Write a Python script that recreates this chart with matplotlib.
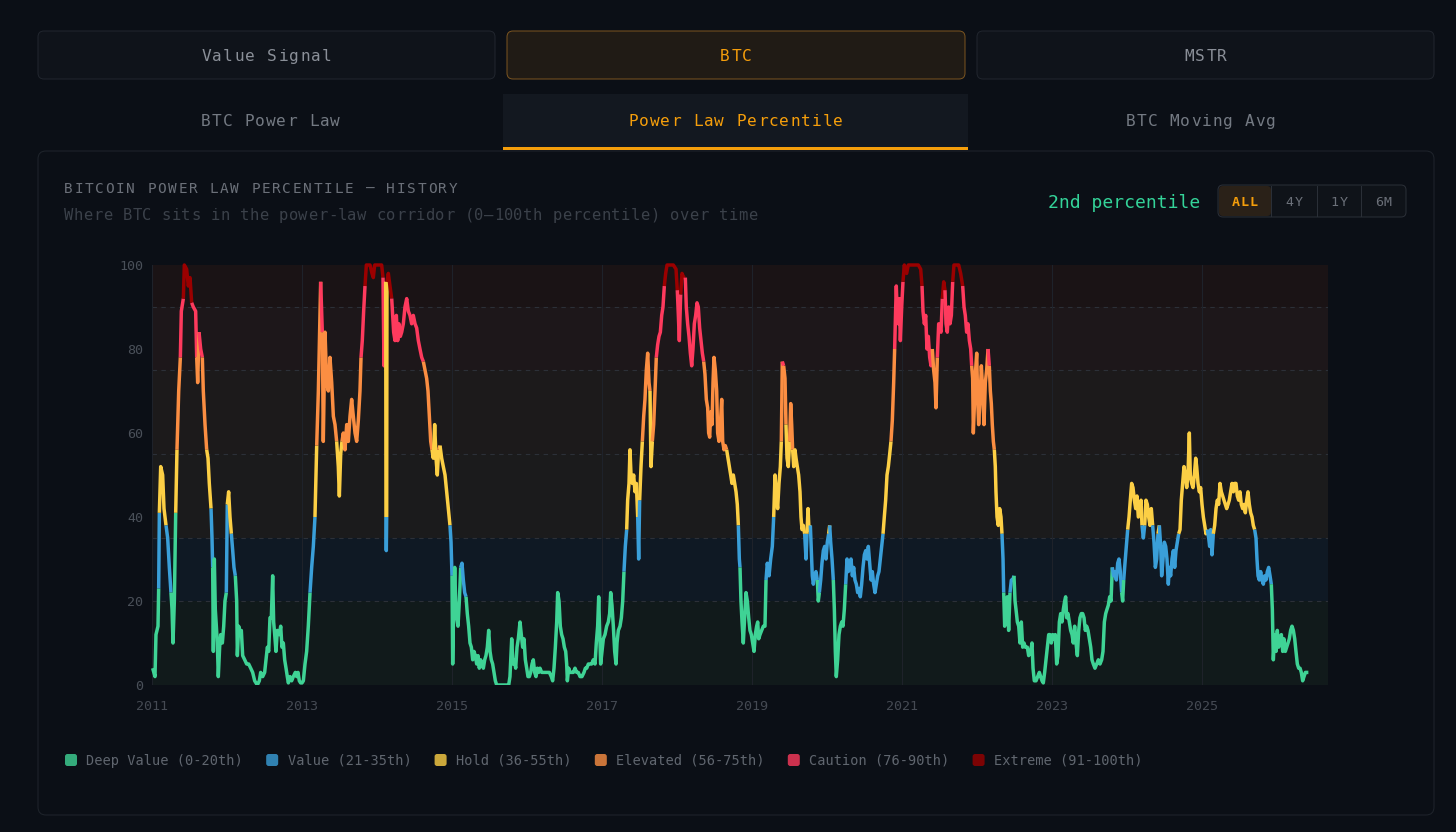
import numpy as np
import matplotlib
matplotlib.use("Agg")
import matplotlib.pyplot as plt
from matplotlib.patches import FancyBboxPatch, Rectangle

plt.rcParams["font.family"] = ["DejaVu Sans Mono", "DejaVu Sans"]

# ---------------- data ----------------
T_2011 = [2011.009, 2011.040, 2011.053, 2011.080, 2011.089, 2011.098, 2011.116, 2011.142, 2011.160, 2011.187,
          2011.209, 2011.231, 2011.253, 2011.267, 2011.280, 2011.298, 2011.316, 2011.333, 2011.356, 2011.378,
          2011.391, 2011.418, 2011.431, 2011.462, 2011.484, 2011.507, 2011.529, 2011.551, 2011.582, 2011.596,
          2011.609, 2011.627, 2011.649, 2011.671, 2011.684, 2011.707, 2011.729, 2011.747, 2011.764, 2011.787,
          2011.800, 2011.809, 2011.818, 2011.831, 2011.844, 2011.858, 2011.871, 2011.884, 2011.902, 2011.916,
          2011.938, 2011.956, 2011.973, 2011.991, 2012.004, 2012.022, 2012.040, 2012.058, 2012.076, 2012.093,
          2012.111, 2012.129, 2012.138, 2012.156, 2012.173, 2012.191, 2012.209, 2012.236, 2012.262, 2012.289,
          2012.316, 2012.342, 2012.369, 2012.404, 2012.431, 2012.449, 2012.476, 2012.502, 2012.520, 2012.538,
          2012.556, 2012.573, 2012.591, 2012.609, 2012.622, 2012.636, 2012.653, 2012.671, 2012.698, 2012.716,
          2012.733, 2012.751, 2012.769, 2012.787, 2012.804, 2012.818, 2012.840, 2012.862, 2012.884, 2012.911,
          2012.929, 2012.947, 2012.964, 2012.982, 2013.000, 2013.018, 2013.040, 2013.062, 2013.084, 2013.107,
          2013.129, 2013.151, 2013.173, 2013.196, 2013.218, 2013.249, 2013.271, 2013.284, 2013.307, 2013.329,
          2013.351, 2013.373, 2013.396, 2013.418, 2013.440, 2013.462, 2013.484, 2013.498]
V_2011 = [4, 2, 12, 14, 23, 41, 52, 50, 42, 38,
          35, 28, 22, 18, 10, 20, 41, 56, 70, 78,
          89, 92, 100, 99, 95, 97, 91, 90, 89, 78,
          72, 84, 80, 78, 70, 62, 56, 54, 48, 42,
          35, 28, 8, 30, 18, 14, 10, 2, 9, 12,
          10, 14, 20, 22, 43, 46, 40, 36, 32, 28,
          26, 20, 7, 14, 12, 13, 7, 6, 5, 5,
          4, 3, 1, 0, 1, 3, 2, 3, 6, 9,
          8, 16, 16, 26, 15, 12, 8, 13, 12, 14,
          9, 10, 6, 4, 2, 0.5, 2, 1, 2, 3,
          2, 3, 1, 0.5, 0.5, 1, 5, 8, 14, 22,
          28, 33, 40, 57, 70, 96, 84, 58, 84, 72,
          70, 78, 72, 64, 62, 58, 52, 45]

T_2013 = [2013.516, 2013.533, 2013.551, 2013.573, 2013.596, 2013.618, 2013.640, 2013.662, 2013.684, 2013.707,
          2013.729, 2013.751, 2013.773, 2013.787, 2013.804, 2013.822, 2013.840, 2013.858, 2013.907, 2013.933,
          2013.951, 2013.969, 2014.018, 2014.062, 2014.080, 2014.093, 2014.107, 2014.116, 2014.120, 2014.124,
          2014.129, 2014.133, 2014.151, 2014.173, 2014.196, 2014.209, 2014.222, 2014.240, 2014.258, 2014.276,
          2014.293, 2014.311, 2014.329, 2014.351, 2014.373, 2014.396, 2014.418, 2014.440, 2014.462, 2014.484,
          2014.507, 2014.529, 2014.551, 2014.573, 2014.596, 2014.618, 2014.640, 2014.662, 2014.680, 2014.698,
          2014.716, 2014.733, 2014.751, 2014.769, 2014.787, 2014.804, 2014.822, 2014.840, 2014.862, 2014.884,
          2014.907, 2014.929, 2014.951, 2014.973, 2014.987, 2015.000, 2015.009, 2015.022, 2015.036, 2015.049,
          2015.062, 2015.080, 2015.098, 2015.116, 2015.133, 2015.151, 2015.169, 2015.187, 2015.204, 2015.222,
          2015.240, 2015.258, 2015.276, 2015.293, 2015.311, 2015.329, 2015.347, 2015.364, 2015.382, 2015.400,
          2015.418, 2015.436, 2015.453, 2015.471, 2015.489, 2015.507, 2015.524, 2015.542, 2015.560, 2015.578,
          2015.596, 2015.640, 2015.684, 2015.729, 2015.756, 2015.773, 2015.796, 2015.813, 2015.831, 2015.849,
          2015.867, 2015.884, 2015.907, 2015.924, 2015.942, 2015.960, 2015.978, 2015.996, 2016.013, 2016.031,
          2016.049, 2016.067, 2016.084, 2016.102, 2016.120, 2016.138, 2016.156, 2016.173]
V_2013 = [55, 58, 60, 56, 62, 58, 64, 68, 64, 60,
          58, 63, 70, 78, 82, 89, 95, 100, 100, 98,
          97, 100, 100, 100, 97, 76, 90, 96, 40, 32,
          40, 96, 98, 95, 92, 88, 84, 82, 88, 82,
          86, 83, 84, 86, 90, 92, 89, 88, 86, 88,
          86, 85, 82, 80, 78, 77, 75, 73, 70, 64,
          58, 56, 54, 62, 54, 50, 56, 57, 54, 52,
          50, 46, 42, 38, 34, 26, 5, 18, 28, 20,
          16, 14, 20, 28, 29, 25, 22, 21, 17, 14,
          10, 9, 6, 8, 7, 5, 7, 4, 6, 5,
          4, 6, 7, 9, 13, 8, 6, 5, 3, 1,
          0, 0, 0, 0, 0, 2, 11, 5, 6, 4,
          9, 11, 15, 12, 9, 11, 6, 4, 2, 2,
          3, 5, 6, 3, 2, 4, 3, 4]

T_2016 = [2016.196, 2016.227, 2016.262, 2016.298, 2016.324, 2016.342, 2016.360, 2016.378, 2016.396, 2016.409,
          2016.427, 2016.444, 2016.462, 2016.480, 2016.498, 2016.516, 2016.529, 2016.538, 2016.556, 2016.573,
          2016.596, 2016.618, 2016.640, 2016.662, 2016.684, 2016.707, 2016.733, 2016.760, 2016.778, 2016.796,
          2016.818, 2016.840, 2016.862, 2016.884, 2016.907, 2016.924, 2016.942, 2016.956, 2016.969, 2016.982,
          2017.000, 2017.018, 2017.040, 2017.062, 2017.084, 2017.102, 2017.116, 2017.133, 2017.151, 2017.169,
          2017.187, 2017.200, 2017.218, 2017.240, 2017.258, 2017.276, 2017.293, 2017.311, 2017.329, 2017.342,
          2017.360, 2017.373, 2017.387, 2017.404, 2017.422, 2017.440, 2017.458, 2017.476, 2017.489, 2017.502,
          2017.520, 2017.538, 2017.556, 2017.573, 2017.591, 2017.609, 2017.627, 2017.640, 2017.653, 2017.671,
          2017.689, 2017.707, 2017.724, 2017.742, 2017.760, 2017.778, 2017.796, 2017.813, 2017.831, 2017.849,
          2017.867, 2017.907, 2017.951, 2017.987, 2018.004, 2018.018, 2018.031, 2018.049, 2018.067, 2018.089,
          2018.111, 2018.124, 2018.142, 2018.160, 2018.178, 2018.196, 2018.213, 2018.231, 2018.249, 2018.267,
          2018.284, 2018.302, 2018.320, 2018.338, 2018.356, 2018.373, 2018.391, 2018.409, 2018.422, 2018.436,
          2018.449, 2018.467, 2018.480, 2018.493, 2018.511, 2018.529, 2018.542, 2018.560, 2018.578, 2018.596,
          2018.609, 2018.627, 2018.644, 2018.662, 2018.680, 2018.698, 2018.716, 2018.733, 2018.751, 2018.769,
          2018.787, 2018.804, 2018.818, 2018.831]
V_2016 = [3, 3, 3, 3, 2, 1, 4, 9, 15, 22,
          20, 14, 12, 11, 9, 8, 5, 1, 4, 3,
          3, 3, 4, 3, 3, 2, 2, 3, 4, 4,
          5, 5, 5, 6, 5, 10, 14, 21, 13, 5,
          8, 11, 12, 14, 15, 17, 22, 19, 14, 8,
          5, 10, 13, 14, 16, 20, 27, 33, 37, 44,
          48, 56, 50, 48, 50, 46, 48, 40, 30, 44,
          52, 58, 64, 68, 75, 79, 72, 70, 52, 58,
          62, 70, 78, 81, 83, 84, 88, 90, 95, 98,
          100, 100, 100, 99, 94, 88, 82, 93, 98, 97,
          97, 90, 86, 83, 79, 76, 80, 86, 88, 91,
          90, 85, 82, 79, 77, 74, 68, 66, 60, 59,
          65, 62, 72, 78, 75, 70, 60, 58, 62, 68,
          58, 56, 57, 56, 54, 52, 50, 48, 50, 48,
          46, 43, 38, 30]

T_2019 = [2018.840, 2018.853, 2018.867, 2018.884, 2018.902, 2018.920, 2018.938, 2018.956, 2018.973, 2018.991,
          2019.009, 2019.027, 2019.044, 2019.062, 2019.076, 2019.089, 2019.107, 2019.129, 2019.151, 2019.173,
          2019.187, 2019.204, 2019.227, 2019.249, 2019.271, 2019.289, 2019.307, 2019.324, 2019.342, 2019.360,
          2019.378, 2019.391, 2019.404, 2019.422, 2019.440, 2019.453, 2019.467, 2019.484, 2019.502, 2019.516,
          2019.529, 2019.542, 2019.556, 2019.573, 2019.587, 2019.604, 2019.622, 2019.640, 2019.653, 2019.667,
          2019.684, 2019.702, 2019.720, 2019.733, 2019.747, 2019.760, 2019.778, 2019.791, 2019.804, 2019.818,
          2019.836, 2019.853, 2019.871, 2019.884, 2019.898, 2019.916, 2019.933, 2019.951, 2019.969, 2019.987,
          2020.004, 2020.022, 2020.036, 2020.049, 2020.067, 2020.084, 2020.098, 2020.111, 2020.124, 2020.142,
          2020.160, 2020.178, 2020.196, 2020.213, 2020.231, 2020.249, 2020.267, 2020.284, 2020.302, 2020.320,
          2020.338, 2020.356, 2020.373, 2020.391, 2020.409, 2020.427, 2020.444, 2020.462, 2020.480, 2020.498,
          2020.516, 2020.533, 2020.551, 2020.569, 2020.587, 2020.604, 2020.622, 2020.640, 2020.658, 2020.676,
          2020.693, 2020.711, 2020.729, 2020.747, 2020.764, 2020.782, 2020.800, 2020.818, 2020.836, 2020.853,
          2020.871, 2020.889, 2020.902, 2020.916, 2020.924, 2020.938, 2020.951, 2020.964, 2020.978, 2020.996,
          2021.013, 2021.031, 2021.062, 2021.084, 2021.129, 2021.173, 2021.218, 2021.249, 2021.267, 2021.280,
          2021.298, 2021.316, 2021.333, 2021.351, 2021.369, 2021.387, 2021.404, 2021.422, 2021.440, 2021.453,
          2021.471, 2021.489]
V_2019 = [28, 20, 15, 10, 16, 22, 20, 16, 13, 12,
          10, 8, 12, 14, 15, 11, 12, 13, 14, 14,
          25, 29, 26, 30, 33, 40, 50, 45, 42, 48,
          52, 58, 77, 76, 73, 62, 54, 52, 58, 67,
          62, 56, 52, 56, 54, 52, 50, 46, 40, 37,
          38, 36, 30, 36, 42, 37, 38, 32, 26, 24,
          26, 27, 25, 20, 22, 25, 29, 32, 33, 30,
          34, 36, 38, 34, 30, 25, 18, 8, 2, 6,
          12, 14, 15, 14, 18, 24, 30, 27, 28, 30,
          26, 28, 25, 24, 22, 23, 21, 24, 28, 31,
          32, 30, 33, 29, 25, 27, 24, 22, 24, 26,
          27, 30, 33, 36, 40, 44, 50, 52, 55, 58,
          63, 72, 80, 90, 95, 88, 86, 92, 82, 90,
          96, 100, 98, 100, 100, 100, 100, 99, 95, 89,
          86, 88, 80, 83, 78, 76, 80, 75, 72, 66,
          78, 86]

T_2021 = [2021.520, 2021.538, 2021.556, 2021.573, 2021.587, 2021.604, 2021.622, 2021.640, 2021.658, 2021.676,
          2021.693, 2021.729, 2021.756, 2021.782, 2021.809, 2021.827, 2021.844, 2021.862, 2021.880, 2021.898,
          2021.916, 2021.929, 2021.942, 2021.951, 2021.964, 2021.978, 2021.996, 2022.009, 2022.022, 2022.040,
          2022.058, 2022.076, 2022.093, 2022.111, 2022.129, 2022.147, 2022.164, 2022.178, 2022.191, 2022.204,
          2022.218, 2022.231, 2022.244, 2022.253, 2022.267, 2022.284, 2022.302, 2022.320, 2022.333, 2022.347,
          2022.356, 2022.369, 2022.387, 2022.404, 2022.422, 2022.440, 2022.458, 2022.476, 2022.493, 2022.507,
          2022.520, 2022.538, 2022.556, 2022.573, 2022.591, 2022.609, 2022.627, 2022.644, 2022.671, 2022.689,
          2022.716, 2022.733, 2022.747, 2022.764, 2022.787, 2022.809, 2022.831, 2022.849, 2022.867, 2022.884,
          2022.902, 2022.920, 2022.938, 2022.956, 2022.973, 2022.991, 2023.009, 2023.027, 2023.044, 2023.062,
          2023.080, 2023.098, 2023.116, 2023.133, 2023.151, 2023.169, 2023.182, 2023.196, 2023.213, 2023.231,
          2023.249, 2023.267, 2023.284, 2023.302, 2023.320, 2023.338, 2023.356, 2023.373, 2023.391, 2023.409,
          2023.427, 2023.444, 2023.462, 2023.480, 2023.498, 2023.516, 2023.533, 2023.551, 2023.573, 2023.596,
          2023.618, 2023.640, 2023.662, 2023.680, 2023.698, 2023.716, 2023.733, 2023.751, 2023.769, 2023.787,
          2023.804, 2023.822, 2023.840, 2023.858, 2023.876, 2023.893, 2023.911, 2023.929, 2023.942, 2023.956,
          2023.973, 2023.991, 2024.009, 2024.027, 2024.044, 2024.062, 2024.080, 2024.098, 2024.116, 2024.133,
          2024.151]
V_2021 = [84, 92, 96, 94, 86, 84, 90, 86, 88, 96,
          100, 100, 100, 98, 95, 90, 88, 84, 86, 82,
          80, 76, 73, 60, 66, 74, 79, 68, 62, 68,
          76, 70, 62, 72, 75, 80, 76, 70, 67, 62,
          58, 56, 52, 46, 40, 38, 42, 40, 36, 30,
          22, 14, 18, 21, 13, 22, 25, 25, 26, 20,
          18, 15, 14, 10, 15, 9, 10, 9, 9, 7,
          8, 10, 4, 1, 1, 2, 3, 2, 1, 0.5,
          3, 6, 9, 12, 12, 10, 12, 11, 12, 5,
          7, 15, 17, 15, 18, 20, 21, 16, 17, 15,
          13, 12, 10, 14, 10, 7, 13, 16, 17, 17,
          16, 13, 14, 13, 11, 9, 6, 5, 4, 5,
          6, 5, 6, 8, 15, 17, 18, 19, 21, 20,
          28, 26, 27, 25, 29, 30, 27, 22, 20, 25,
          29, 33, 37, 40, 44, 48, 47, 44, 42, 45,
          40]

T_2024 = [2024.187, 2024.200, 2024.218, 2024.236, 2024.253, 2024.271, 2024.289, 2024.307, 2024.324, 2024.342,
          2024.360, 2024.378, 2024.396, 2024.413, 2024.431, 2024.449, 2024.462, 2024.480, 2024.498, 2024.516,
          2024.533, 2024.551, 2024.564, 2024.582, 2024.600, 2024.618, 2024.636, 2024.653, 2024.671, 2024.689,
          2024.707, 2024.724, 2024.742, 2024.760, 2024.778, 2024.796, 2024.813, 2024.831, 2024.844, 2024.862,
          2024.880, 2024.898, 2024.916, 2024.929, 2024.947, 2024.964, 2024.982, 2025.000, 2025.018, 2025.036,
          2025.053, 2025.071, 2025.089, 2025.102, 2025.116, 2025.133, 2025.151, 2025.169, 2025.187, 2025.204,
          2025.222, 2025.240, 2025.258, 2025.276, 2025.293, 2025.311, 2025.329, 2025.347, 2025.364, 2025.382,
          2025.400, 2025.418, 2025.436, 2025.453, 2025.471, 2025.489, 2025.507, 2025.524, 2025.542, 2025.560,
          2025.578, 2025.596, 2025.613, 2025.631, 2025.649, 2025.667, 2025.684, 2025.702, 2025.720, 2025.733,
          2025.747, 2025.764, 2025.782, 2025.800, 2025.818, 2025.836, 2025.853, 2025.871, 2025.889, 2025.907,
          2025.924, 2025.938, 2025.951, 2025.969, 2025.987, 2026.004, 2026.022, 2026.040, 2026.058, 2026.076,
          2026.093, 2026.111, 2026.129, 2026.147, 2026.164, 2026.182, 2026.200, 2026.218, 2026.236, 2026.253,
          2026.271, 2026.289, 2026.307, 2026.324, 2026.342, 2026.360, 2026.378, 2026.396, 2026.418]
V_2024 = [44, 38, 35, 38, 44, 43, 40, 38, 42, 38,
          34, 28, 30, 36, 38, 33, 26, 30, 34, 33,
          30, 24, 28, 26, 30, 32, 28, 32, 34, 36,
          37, 44, 48, 52, 50, 47, 50, 60, 50, 48,
          47, 50, 54, 52, 48, 46, 47, 43, 40, 38,
          36, 37, 35, 33, 37, 31, 36, 38, 42, 44,
          43, 48, 46, 45, 44, 43, 42, 43, 44, 46,
          48, 46, 48, 48, 45, 44, 46, 43, 42, 43,
          41, 44, 46, 43, 41, 40, 38, 37, 35, 30,
          26, 25, 27, 25, 24, 26, 25, 27, 28, 26,
          24, 18, 6, 12, 8, 13, 9, 11, 12, 8,
          11, 8, 9, 10, 11, 13, 14, 13, 11, 8,
          5, 4, 4, 3, 1, 2, 3, 3, 3]

BAND_EDGES = [0, 20, 35, 55, 75, 90, 100]
BAND_LABELS = ["Deep Value (0-20th)", "Value (21-35th)", "Hold (36-55th)",
               "Elevated (56-75th)", "Caution (76-90th)", "Extreme (91-100th)"]
LINE_COLORS = ["#3fd395", "#3a9fd9", "#fccf45", "#fb8e42", "#fe3a5d", "#9b0000"]
BAND_FILLS = ["#111a1b", "#0f1924", "#1b1b1c", "#1c1a1b", "#1d171a", "#1a1315"]
TICK_YEARS = [2011, 2013, 2015, 2017, 2019, 2021, 2023, 2025]
Y_TICKS = [0, 20, 40, 60, 80, 100]
CURRENT_LABEL = "2nd percentile"

# ---------------- figure ----------------
W, H = 1456, 832
BG = "#0b0f16"
ORANGE = "#f59e0b"
fig = plt.figure(figsize=(W / 100, H / 100), dpi=100)
fig.patch.set_facecolor(BG)

ui = fig.add_axes([0, 0, 1, 1], zorder=0)
ui.set_xlim(0, W)
ui.set_ylim(H, 0)
ui.axis("off")

PX = 0.72  # one pixel in points


def rbox(x0, y0, x1, y1, r, fc, ec, lw=1.0, z=1):
    p = FancyBboxPatch((x0, y0), x1 - x0, y1 - y0,
                       boxstyle=f"round,pad=0,rounding_size={r}",
                       fc=fc, ec=ec, lw=lw * PX, zorder=z)
    ui.add_patch(p)


def txt(x, y, s, size, color, ha="left", adv=None, weight="normal", z=5):
    px = size * 100 / 72
    yb = y + 0.365 * px
    if adv is None:
        ui.text(x, yb, s, ha=ha, va="baseline", fontsize=size, color=color,
                fontweight=weight, zorder=z)
        return
    n = len(s)
    total = adv * (n - 1) + 0.602 * px
    if ha == "center":
        x0 = x - total / 2
    elif ha == "right":
        x0 = x - total
    else:
        x0 = x
    for i, ch in enumerate(s):
        ui.text(x0 + i * adv, yb, ch, ha="left", va="baseline", fontsize=size,
                color=color, fontweight=weight, zorder=z)


# top buttons
rbox(38, 31, 495, 79, 6, "#0f131a", "#21262e")
rbox(507, 31, 965, 79, 6, "#201b15", "#7a5420")
rbox(977, 31, 1434, 79, 6, "#0f131a", "#21262e")
txt(266.5, 55, "Value Signal", 11.6, "#8a8f98", ha="center", adv=11.0)
txt(736, 55, "BTC", 11.6, ORANGE, ha="center", adv=11.0)
txt(1205.5, 55, "MSTR", 11.6, "#8a8f98", ha="center", adv=11.0)

# card
rbox(38, 151, 1434, 815, 8, BG, "#1f242c", z=0.5)
# tabs
ui.add_patch(Rectangle((503, 94), 465, 54, fc="#131820", ec="none", zorder=1))
ui.add_patch(Rectangle((503, 147), 465, 3, fc=ORANGE, ec="none", zorder=2))
txt(270.5, 120, "BTC Power Law", 11.6, "#747a83", ha="center", adv=10.8)
txt(735.5, 120, "Power Law Percentile", 11.6, ORANGE, ha="center", adv=10.8)
txt(1201, 120, "BTC Moving Avg", 11.6, "#747a83", ha="center", adv=10.8)

# titles
txt(64, 188, "BITCOIN POWER LAW PERCENTILE — HISTORY", 10.4, "#6b7079", adv=10.4)
txt(64, 214, "Where BTC sits in the power-law corridor (0–100th percentile) over time",
    11.2, "#3b414a", adv=9.77)
txt(1200, 201, CURRENT_LABEL, 13, "#34d399", ha="right")

# range selector
rbox(1218, 185, 1406, 217, 5, "#0f1319", "#2a2f37")
ui.add_patch(FancyBboxPatch((1219, 186), 52, 30, boxstyle="round,pad=0,rounding_size=4",
                            fc="#2a2118", ec="none", zorder=2))
for xs in (1271, 1317, 1361):
    ui.plot([xs, xs], [186, 216], color="#2a2f37", lw=PX, zorder=3)
txt(1245, 201, "ALL", 9.6, ORANGE, ha="center", adv=8.8, weight="bold")
txt(1294, 201, "4Y", 9.6, "#6b7079", ha="center", adv=8.8)
txt(1339, 201, "1Y", 9.6, "#6b7079", ha="center", adv=8.8)
txt(1383.5, 201, "6M", 9.6, "#6b7079", ha="center", adv=8.8)

# legend
lx = 65.0
leg_size = 9.8
char_w = 0.602 * leg_size * 100 / 72
for lab, col in zip(BAND_LABELS, LINE_COLORS):
    ui.add_patch(FancyBboxPatch((lx, 754), 12, 12, boxstyle="round,pad=0,rounding_size=2.5",
                                fc=col, ec="none", alpha=0.8, zorder=3))
    txt(lx + 21.5, 760, lab, leg_size, "#60666f")
    lx += 21.5 + char_w * len(lab) + 24

# ---------------- chart ----------------
ax = fig.add_axes([152 / W, 1 - 685 / H, 1176 / W, 420 / H], zorder=2)
ax.patch.set_alpha(0)
XMAX = 2011 + 1176 / 75
ax.set_xlim(2011, XMAX)
ax.set_ylim(0, 100)
for s in ax.spines.values():
    s.set_visible(False)

for lo, hi, c in zip(BAND_EDGES[:-1], BAND_EDGES[1:], BAND_FILLS):
    ax.axhspan(lo, hi, color=c, lw=0, zorder=0)
for e in BAND_EDGES[1:-1]:
    ax.axhline(e, color="#2c3038", lw=0.8, ls=(0, (4, 4)), zorder=1)
for yr in TICK_YEARS:
    ax.axvline(yr, color="#1e222a", lw=0.8, zorder=1)

ax.set_xticks(TICK_YEARS)
ax.set_xticklabels([str(y) for y in TICK_YEARS])
ax.set_yticks(Y_TICKS)
ax.set_yticklabels([str(v) for v in Y_TICKS])
ax.tick_params(axis="both", length=0, labelsize=9.6)
ax.tick_params(axis="x", colors="#454a53", pad=10.5)
ax.tick_params(axis="y", colors="#4a5059", pad=6.5)

t = np.concatenate([T_2011, T_2013, T_2016, T_2019, T_2021, T_2024])
v = np.concatenate([V_2011, V_2013, V_2016, V_2019, V_2021, V_2024]).astype(float)


def band_of(val):
    for i, hi in enumerate(BAND_EDGES[1:-1]):
        if val <= hi + 0.5:
            return i
    return len(BAND_EDGES) - 2


clip = Rectangle((2010.5, 0), XMAX - 2010.5 + 1, 110, transform=ax.transData)
seg_band = [band_of(min(v[i], v[i + 1])) for i in range(len(v) - 1)]
start = 0
for i in range(1, len(seg_band) + 1):
    if i == len(seg_band) or seg_band[i] != seg_band[start]:
        ln, = ax.plot(t[start:i + 1], v[start:i + 1], color=LINE_COLORS[seg_band[start]],
                      lw=2.5, solid_joinstyle="round", solid_capstyle="butt",
                      clip_on=True, zorder=3)
        ln.set_clip_path(clip)
        start = i

fig.savefig("out.png", dpi=100, facecolor=BG)
